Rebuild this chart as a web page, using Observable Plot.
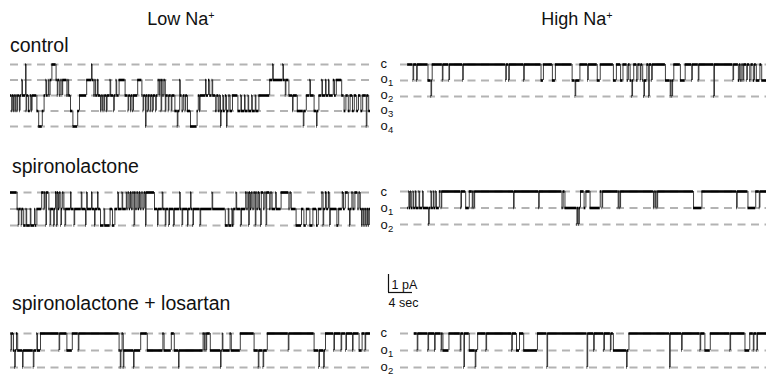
<!DOCTYPE html>
<html>
<head>
<meta charset="utf-8">
<script src="https://cdn.jsdelivr.net/npm/d3@7"></script>
<script src="https://cdn.jsdelivr.net/npm/@observablehq/plot@0.6"></script>
<style>
  body { margin: 0; background: #fff; }
  #fig { position: relative; width: 766px; height: 380px; background: #fff; overflow: hidden;
         font-family: "Liberation Sans", Arial, sans-serif; color: #111; }
  .abs { position: absolute; }
  .lbl { position: absolute; white-space: nowrap; line-height: 1; }
  .lbl sup { font-size: 0.6em; line-height: 0; vertical-align: 0.55em; }
  #fig svg { overflow: visible; background: transparent; }
</style>
</head>
<body>
<div id="fig"></div>
<script>
// ---------- text ----------
const columnTitles = ["Low Na", "High Na"];
const conditions = ["control", "spironolactone", "spironolactone + losartan"];
const levelNamesFive = ["c", "o1", "o2", "o3", "o4"];
const levelNamesThree = ["c", "o1", "o2"];
const scaleBar = { pA: 1, sec: 4 };

// ---------- traces: [time (s), open level] step sequences (level held until next time) ----------
const ctrlLow = [[0,2],[0.2,3],[0.3,2],[0.5,3],[0.6,2],[0.8,3],[0.9,2],[1.1,3],[1.2,2],[1.5,3],[1.6,2],[1.9,1],[2.0,2],[2.5,0],[2.6,3],[2.7,2],[3.0,3],[3.3,2],[3.5,3],[3.6,2],[4.4,3],[4.7,4],[5.3,3],[5.6,2],[5.9,1],[6.0,2],[6.3,1],[6.4,2],[6.6,1],[6.9,0],[7.6,1],[7.8,2],[7.9,1],[8.2,2],[8.4,1],[8.6,2],[8.7,1],[9.4,2],[9.6,1],[9.7,2],[10.0,3],[10.4,4],[11.2,3],[11.5,2],[12.7,1],[13.5,0],[13.6,1],[13.9,2],[14.1,1],[14.2,2],[14.5,1],[14.6,2],[15.0,3],[15.1,2],[15.3,3],[15.4,2],[15.6,3],[15.7,2],[16.0,3],[16.1,2],[16.6,1],[16.7,2],[17.2,3],[17.3,2],[17.6,1],[17.7,2],[18.1,1],[19.1,2],[19.6,3],[19.7,2],[20.0,3],[20.1,2],[20.4,3],[20.5,2],[21.2,1],[21.9,2],[22.1,3],[22.2,2],[22.5,4],[22.6,2],[22.9,3],[23.0,2],[23.3,3],[23.4,2],[23.7,3],[23.8,2],[24.2,3],[24.3,2],[24.6,1],[24.8,2],[24.9,1],[25.1,3],[25.2,1],[25.4,2],[25.6,1],[25.8,3],[25.9,2],[26.3,3],[26.4,2],[26.8,3],[26.9,2],[27.4,3],[27.8,4],[27.9,3],[28.2,1],[28.3,2],[28.6,3],[28.8,2],[29.1,3],[29.2,2],[29.5,3],[30.0,4],[31.1,3],[31.3,2],[31.5,3],[31.6,2],[32.5,1],[32.6,2],[33.0,1],[33.2,2],[33.6,1],[33.7,2],[34.2,3],[34.4,2],[34.7,3],[34.9,2],[35.0,4],[35.1,3],[35.4,2],[35.5,3],[35.8,2],[36.0,4],[36.1,3],[36.4,2],[36.6,3],[37.0,2],[37.9,3],[38.4,2],[38.5,3],[39.0,2],[39.1,3],[39.6,2],[39.7,3],[40.2,2],[40.3,3],[40.8,2],[40.9,3],[41.4,2],[43.2,1],[43.7,0],[43.8,1],[45.4,0],[45.5,1],[45.8,2],[45.9,1],[46.4,2],[47.0,3],[47.1,2],[47.8,3],[48.8,4],[48.9,3],[49.3,2],[49.9,1],[50.0,2],[50.6,3],[51.0,4],[51.1,3],[51.4,2],[51.9,1],[52.0,2],[52.5,1],[52.6,2],[53.0,1],[53.1,2],[53.8,1],[54.0,2],[54.3,1],[55.2,2],[55.6,3],[55.9,2],[56.3,3],[56.6,2],[57.0,3],[57.3,2],[57.7,3],[58.0,2],[58.4,3],[58.7,2],[59.3,4],[59.4,2],[59.7,3],[60,3]];

const ctrlHigh = [[0,0],[0.9,1],[1.0,0],[1.5,1],[1.6,0],[3.4,1],[3.9,2],[4.0,1],[4.1,0],[5.8,1],[5.9,0],[6.9,1],[7.0,0],[9.2,1],[9.3,0],[16.4,1],[16.5,0],[16.9,1],[17.0,0],[19.4,1],[19.5,0],[22.3,1],[22.7,0],[24.2,1],[24.7,0],[27.5,1],[28.0,2],[28.1,1],[28.8,0],[30.1,1],[30.2,0],[31.7,1],[32.2,0],[34.4,1],[34.9,0],[35.6,1],[36.0,0],[36.7,1],[36.9,0],[37.2,1],[37.5,2],[37.6,1],[37.8,0],[38.3,1],[38.5,0],[38.9,1],[39.0,0],[39.3,1],[39.5,2],[39.6,1],[40.0,0],[40.3,2],[40.4,0],[40.8,1],[40.9,0],[43.1,1],[43.9,2],[44.0,1],[44.2,2],[44.3,1],[44.5,0],[45.6,1],[46.4,0],[47.5,1],[47.6,0],[48.6,1],[48.7,0],[51.2,2],[51.3,0],[54.4,1],[54.5,0],[55.3,1],[55.5,0],[55.7,1],[55.9,0],[56.1,1],[56.2,0],[56.7,1],[56.8,0],[57.2,1],[57.4,0],[57.8,1],[58.0,0],[58.3,1],[58.9,0],[59.2,1],[60,1]];

const spiroLow = [[0,0],[1.1,1],[1.3,2],[1.4,1],[1.8,2],[1.9,1],[2.2,2],[2.6,1],[2.7,2],[3.3,1],[3.4,2],[4.0,1],[4.1,2],[4.4,1],[5.2,0],[5.6,1],[5.7,0],[5.9,2],[6.0,0],[6.4,1],[6.6,2],[6.7,1],[7.2,2],[7.3,1],[7.5,0],[7.7,2],[7.8,0],[8.0,1],[8.2,0],[8.4,2],[8.5,1],[8.7,0],[8.9,1],[9.1,2],[9.2,1],[10.0,0],[10.1,1],[10.6,2],[10.7,1],[11.8,0],[11.9,1],[12.5,2],[12.6,1],[12.7,0],[12.8,1],[13.5,0],[13.6,1],[14.0,2],[14.1,1],[14.5,0],[14.6,1],[15.0,2],[15.6,1],[15.7,2],[16.6,1],[17.0,2],[17.4,1],[17.9,0],[18.0,1],[18.6,0],[18.7,1],[19.3,0],[19.4,1],[19.6,0],[19.8,1],[20.0,0],[20.2,1],[20.4,0],[20.6,2],[20.7,0],[20.9,1],[21.1,0],[21.3,1],[21.5,0],[21.7,1],[21.9,0],[22.1,1],[22.3,0],[22.5,2],[22.6,0],[24.0,1],[24.5,2],[24.6,1],[25.3,0],[25.4,1],[25.8,2],[25.9,1],[26.4,2],[26.5,1],[27.2,2],[27.3,1],[28.2,0],[28.3,1],[28.6,2],[28.7,1],[29.5,2],[29.6,1],[30.0,0],[30.1,1],[30.4,2],[30.5,1],[31.6,2],[31.7,1],[33.6,0],[33.7,1],[35.8,2],[36.3,1],[36.4,2],[36.9,1],[37.0,2],[37.2,1],[37.6,0],[37.7,1],[38.4,2],[38.5,1],[39.2,0],[39.4,1],[39.6,0],[39.7,2],[39.8,0],[40.0,1],[40.2,0],[40.4,1],[40.6,0],[40.8,2],[40.9,0],[41.1,1],[41.3,0],[41.5,1],[41.7,2],[41.8,0],[42.2,1],[42.4,0],[42.6,2],[42.7,0],[43.2,1],[43.4,0],[43.6,1],[44.2,0],[44.3,1],[45.1,0],[46.4,1],[46.6,0],[46.8,1],[47.6,2],[48.5,1],[48.9,2],[49.3,1],[49.9,2],[50.4,1],[51.0,2],[51.3,1],[51.9,0],[52.1,2],[52.2,1],[52.5,0],[52.7,1],[53.0,0],[53.2,2],[53.3,1],[54.4,2],[54.7,1],[55.3,0],[55.5,1],[55.8,0],[56.3,1],[56.5,2],[56.6,1],[56.9,0],[57.1,1],[57.4,0],[57.9,1],[58.1,0],[58.3,1],[58.5,2],[58.6,1],[58.8,2],[58.9,1],[59.1,2],[59.2,1],[59.4,2],[59.5,1],[59.7,2],[59.8,1],[60,1]];

const spiroHigh = [[0,1],[0.2,0],[0.3,1],[0.5,0],[0.6,1],[0.9,0],[1.0,1],[1.3,0],[1.4,1],[1.9,0],[2.0,1],[2.5,0],[2.6,1],[3.5,2],[3.6,1],[3.9,0],[4.0,1],[4.3,0],[4.4,1],[4.7,0],[4.8,1],[5.3,0],[5.6,1],[5.7,0],[8.9,1],[9.0,0],[9.7,1],[10.3,0],[10.8,1],[10.9,0],[11.1,1],[11.2,0],[17.7,1],[17.8,0],[21.9,1],[22.0,0],[25.8,1],[26.0,0],[26.3,1],[28.3,2],[28.4,1],[28.6,2],[28.7,1],[28.9,0],[29.5,1],[29.8,0],[30.5,1],[32.2,0],[32.5,1],[32.6,0],[35.2,1],[35.3,0],[35.5,1],[35.6,0],[41.1,1],[41.2,0],[41.4,1],[41.5,0],[41.7,1],[41.8,0],[47.8,1],[49.2,0],[55.0,1],[55.1,0],[56.9,1],[58.2,0],[58.8,1],[58.9,0],[60,0]];

const losLow = [[0,0],[0.1,1],[0.2,0],[0.5,1],[0.7,2],[0.8,1],[1.0,0],[1.2,1],[2.0,2],[2.1,1],[3.8,2],[3.9,1],[4.4,0],[4.5,1],[5.0,0],[8.1,1],[8.2,0],[9.4,1],[10.3,0],[11.3,1],[11.4,0],[18.1,1],[18.3,2],[18.4,1],[18.6,0],[18.8,2],[18.9,1],[20.5,2],[20.6,1],[21.7,0],[22.8,1],[25.4,0],[25.6,1],[26.8,0],[27.3,1],[28.0,2],[28.1,1],[32.1,0],[32.3,1],[32.4,0],[32.6,1],[32.7,0],[33.3,1],[35.0,2],[35.1,1],[35.3,0],[35.4,1],[36.6,0],[36.8,1],[38.3,0],[40.6,1],[41.3,2],[41.4,1],[42.1,2],[42.2,1],[42.8,0],[46.3,1],[46.4,0],[50.6,1],[51.4,2],[51.5,1],[52.2,2],[52.3,1],[52.5,0],[53.9,1],[54.0,0],[55.1,1],[55.2,0],[55.9,1],[56.0,0],[57.0,1],[57.1,0],[58.1,1],[58.6,0],[59.1,1],[59.2,0],[60,0]];

const losHigh = [[1.1,0],[1.6,1],[1.7,0],[3.4,1],[3.5,0],[4.5,1],[4.6,0],[5.6,1],[5.7,0],[5.9,1],[6.9,0],[8.8,1],[8.9,0],[9.4,2],[9.5,0],[10.3,1],[11.3,2],[11.4,1],[11.7,0],[13.1,1],[13.2,0],[17.4,1],[17.5,0],[18.2,1],[18.7,0],[19.4,1],[21.7,0],[23.3,2],[23.4,0],[30.0,2],[30.1,0],[31.1,1],[31.2,0],[32.8,1],[32.9,0],[33.9,1],[34.0,0],[34.4,1],[36.6,2],[36.7,1],[37.0,0],[43.8,2],[43.9,0],[45.8,1],[45.9,0],[48.9,1],[49.0,0],[49.7,1],[50.6,0],[53.9,1],[54.0,0],[56.4,1],[57.2,0],[57.8,1],[57.9,0],[58.4,1],[58.5,0],[60,0]];

// ---------- build ----------
const fig = document.getElementById("fig");

function stepParts(steps) {
  const segs = [], trans = [];
  for (let i = 0; i < steps.length - 1; i++) {
    segs.push({t1: steps[i][0], t2: steps[i + 1][0], lvl: steps[i][1]});
    if (steps[i + 1][1] !== steps[i][1]) trans.push({t: steps[i + 1][0], from: steps[i][1], to: steps[i + 1][1]});
  }
  return {segs, trans};
}

function place(node, left, top) {
  node.classList.add("abs");
  node.style.left = left + "px";
  node.style.top = top + "px";
  fig.appendChild(node);
}

function tracePlot(steps, {side, nLevels, shownLevels, labels, spacing, cY}) {
  const {segs, trans} = stepParts(steps);
  const left = side === "left";
  const mt = 6, mb = 8;
  const h = mt + spacing * nLevels + mb;
  const marks = [
    Plot.ruleY(shownLevels, {y: d => d, stroke: "#b3b3b3", strokeWidth: 1.8, strokeDasharray: "8,5.5"}),
    Plot.ruleX(trans, {x: "t", y1: "from", y2: "to", stroke: "#2a2a2a", strokeWidth: 0.9}),
    Plot.ruleY(segs, {y: "lvl", x1: "t1", x2: "t2", stroke: "#000", strokeWidth: 2.6})
  ];
  if (labels) {
    const lab = labels.map((name, i) => ({lvl: i, base: name[0], sub: name.slice(1)}));
    marks.push(Plot.text(lab, {y: "lvl", text: "base", frameAnchor: "right", dx: 10, dy: -1,
      textAnchor: "start", fontSize: 13, fill: "#111"}));
    marks.push(Plot.text(lab, {y: "lvl", text: "sub", frameAnchor: "right", dx: 17.5, dy: 3,
      textAnchor: "start", fontSize: 9.5, fill: "#111"}));
  }
  const p = Plot.plot({
    width: left ? 398 : 366, height: h,
    marginLeft: left ? 10 : 0, marginRight: left ? 28 : 0, marginTop: mt, marginBottom: mb,
    x: {domain: left ? [0, 60] : [-1.2, 60], axis: null},
    y: {domain: [0, nLevels], reverse: true, axis: null},
    style: {background: "transparent", overflow: "visible", fontFamily: "Liberation Sans, Arial, sans-serif"},
    marks
  });
  place(p, left ? 0 : 400, cY - mt);
}

// row 1
tracePlot(ctrlLow, {side: "left", nLevels: 4, shownLevels: [0,1,2,3,4], labels: levelNamesFive, spacing: 15.5, cY: 64});
tracePlot(ctrlHigh, {side: "right", nLevels: 4, shownLevels: [0,1,2], spacing: 16, cY: 63.5});
// row 2
tracePlot(spiroLow, {side: "left", nLevels: 2, shownLevels: [0,1,2], labels: levelNamesThree, spacing: 16.5, cY: 191.5});
tracePlot(spiroHigh, {side: "right", nLevels: 2, shownLevels: [0,1,2], spacing: 16.5, cY: 191});
// row 3
tracePlot(losLow, {side: "left", nLevels: 2, shownLevels: [0,1,2], labels: levelNamesThree, spacing: 17, cY: 333});
tracePlot(losHigh, {side: "right", nLevels: 2, shownLevels: [0,1,2], spacing: 17, cY: 332.5});

// scale bar (6 px per second, 18 px per pA)
{
  const sb = Plot.plot({
    width: 60, height: 50, marginLeft: 10, marginRight: 2, marginTop: 10, marginBottom: 22,
    x: {domain: [0, 8], axis: null},
    y: {domain: [0, scaleBar.pA], axis: null},
    style: {background: "transparent", overflow: "visible", fontFamily: "Liberation Sans, Arial, sans-serif"},
    marks: [
      Plot.ruleX([0], {y1: 0, y2: scaleBar.pA, stroke: "#111", strokeWidth: 1.2}),
      Plot.ruleY([0], {x1: 0, x2: scaleBar.sec, stroke: "#111", strokeWidth: 1.2}),
      Plot.text([`${scaleBar.pA} pA`], {x: 0, y: scaleBar.pA / 2, text: d => d, dx: 3, dy: 1, textAnchor: "start", fontSize: 12.5, fill: "#111"}),
      Plot.text([`${scaleBar.sec} sec`], {x: 0, y: 0, text: d => d, dx: 0, dy: 10, textAnchor: "start", fontSize: 12.5, fill: "#111"})
    ]
  });
  place(sb, 378, 264);
}

// titles & row labels
function label(html, left, baseline, size, center) {
  const d = document.createElement("div");
  d.className = "lbl";
  d.innerHTML = html;
  d.style.fontSize = size + "px";
  d.style.left = left + "px";
  d.style.top = (baseline - 0.8465 * size) + "px";
  if (center) d.style.transform = "translateX(-50%)";
  fig.appendChild(d);
}
label(columnTitles[0] + "<sup>+</sup>", 181, 25, 18, true);
label(columnTitles[1] + "<sup>+</sup>", 577, 25, 18, true);
label(conditions[0], 10, 53, 19.5, false);
label(conditions[1], 12, 174, 19.5, false);
label(conditions[2], 12, 310.5, 19.5, false);
</script>
</body>
</html>
